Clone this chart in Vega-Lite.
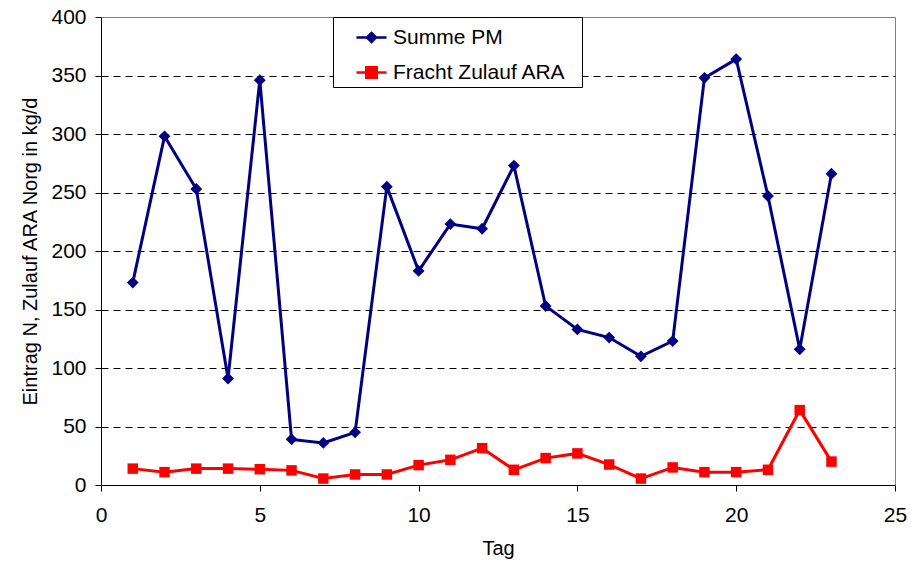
{
  "$schema": "https://vega.github.io/schema/vega-lite/v6.json",
  "width": 794,
  "height": 468,
  "autosize": {"type": "none"},
  "padding": {"left": 101, "top": 17, "right": 17, "bottom": 79},
  "background": "white",
  "config": {
    "font": "Liberation Sans",
    "view": {"stroke": "#808080", "strokeWidth": 1},
    "axis": {
      "labelFont": "Liberation Sans",
      "titleFont": "Liberation Sans",
      "labelColor": "black",
      "titleColor": "black",
      "labelFontSize": 21,
      "titleFontSize": 20,
      "titleFontWeight": "normal",
      "domainColor": "black",
      "tickColor": "black",
      "tickSize": 6,
      "labelFlush": false,
      "labelOverlap": false
    },
    "legend": {
      "labelFont": "Liberation Sans",
      "labelFontSize": 21,
      "labelColor": "black"
    }
  },
  "data": {
    "values": [
      {"tag": 1, "series": "Summe PM", "wert": 173},
      {"tag": 2, "series": "Summe PM", "wert": 298},
      {"tag": 3, "series": "Summe PM", "wert": 253},
      {"tag": 4, "series": "Summe PM", "wert": 91},
      {"tag": 5, "series": "Summe PM", "wert": 346},
      {"tag": 6, "series": "Summe PM", "wert": 39},
      {"tag": 7, "series": "Summe PM", "wert": 36},
      {"tag": 8, "series": "Summe PM", "wert": 45},
      {"tag": 9, "series": "Summe PM", "wert": 255},
      {"tag": 10, "series": "Summe PM", "wert": 183},
      {"tag": 11, "series": "Summe PM", "wert": 223},
      {"tag": 12, "series": "Summe PM", "wert": 219},
      {"tag": 13, "series": "Summe PM", "wert": 273},
      {"tag": 14, "series": "Summe PM", "wert": 153},
      {"tag": 15, "series": "Summe PM", "wert": 133},
      {"tag": 16, "series": "Summe PM", "wert": 126},
      {"tag": 17, "series": "Summe PM", "wert": 110},
      {"tag": 18, "series": "Summe PM", "wert": 123},
      {"tag": 19, "series": "Summe PM", "wert": 348},
      {"tag": 20, "series": "Summe PM", "wert": 364},
      {"tag": 21, "series": "Summe PM", "wert": 247},
      {"tag": 22, "series": "Summe PM", "wert": 116},
      {"tag": 23, "series": "Summe PM", "wert": 266},
      {"tag": 1, "series": "Fracht Zulauf ARA", "wert": 14},
      {"tag": 2, "series": "Fracht Zulauf ARA", "wert": 11},
      {"tag": 3, "series": "Fracht Zulauf ARA", "wert": 14},
      {"tag": 4, "series": "Fracht Zulauf ARA", "wert": 14},
      {"tag": 5, "series": "Fracht Zulauf ARA", "wert": 13.5},
      {"tag": 6, "series": "Fracht Zulauf ARA", "wert": 12.5},
      {"tag": 7, "series": "Fracht Zulauf ARA", "wert": 5.5},
      {"tag": 8, "series": "Fracht Zulauf ARA", "wert": 9},
      {"tag": 9, "series": "Fracht Zulauf ARA", "wert": 9},
      {"tag": 10, "series": "Fracht Zulauf ARA", "wert": 17},
      {"tag": 11, "series": "Fracht Zulauf ARA", "wert": 21.5},
      {"tag": 12, "series": "Fracht Zulauf ARA", "wert": 31.5},
      {"tag": 13, "series": "Fracht Zulauf ARA", "wert": 13},
      {"tag": 14, "series": "Fracht Zulauf ARA", "wert": 23},
      {"tag": 15, "series": "Fracht Zulauf ARA", "wert": 27},
      {"tag": 16, "series": "Fracht Zulauf ARA", "wert": 17.5},
      {"tag": 17, "series": "Fracht Zulauf ARA", "wert": 5.5},
      {"tag": 18, "series": "Fracht Zulauf ARA", "wert": 15},
      {"tag": 19, "series": "Fracht Zulauf ARA", "wert": 11},
      {"tag": 20, "series": "Fracht Zulauf ARA", "wert": 11},
      {"tag": 21, "series": "Fracht Zulauf ARA", "wert": 13},
      {"tag": 22, "series": "Fracht Zulauf ARA", "wert": 64},
      {"tag": 23, "series": "Fracht Zulauf ARA", "wert": 20}
    ]
  },
  "encoding": {
    "x": {
      "field": "tag",
      "type": "quantitative",
      "scale": {"domain": [0, 25], "nice": false},
      "axis": {
        "values": [0, 5, 10, 15, 20, 25],
        "grid": false,
        "title": "Tag",
        "labelPadding": 13,
        "titlePadding": 13
      }
    },
    "y": {
      "field": "wert",
      "type": "quantitative",
      "scale": {"domain": [0, 400], "nice": false},
      "axis": {
        "values": [0, 50, 100, 150, 200, 250, 300, 350, 400],
        "grid": true,
        "gridColor": "black",
        "gridDash": [7, 5],
        "gridWidth": 1,
        "gridOpacity": {"condition": {"test": "datum.value <= 0 || datum.value >= 400", "value": 0}, "value": 1},
        "title": "Eintrag N, Zulauf ARA Norg in kg/d",
        "labelPadding": 9,
        "titlePadding": 10
      }
    }
  },
  "layer": [
    {
      "transform": [{"filter": "datum.series === 'Summe PM'"}],
      "mark": {"type": "line", "color": "#000080", "strokeWidth": 3}
    },
    {
      "transform": [{"filter": "datum.series === 'Summe PM'"}],
      "mark": {"type": "point", "shape": "diamond", "filled": true, "opacity": 1, "size": 140, "color": "#000080"}
    },
    {
      "transform": [{"filter": "datum.series === 'Fracht Zulauf ARA'"}],
      "mark": {"type": "line", "color": "#FF0000", "strokeWidth": 3}
    },
    {
      "transform": [{"filter": "datum.series === 'Fracht Zulauf ARA'"}],
      "mark": {"type": "point", "shape": "square", "filled": true, "opacity": 1, "size": 110, "color": "#FF0000"}
    },
    {
      "mark": {"type": "point", "filled": true, "opacity": 0, "size": 900},
      "encoding": {
        "color": {
          "field": "series",
          "type": "nominal",
          "scale": {"domain": ["Summe PM", "Fracht Zulauf ARA"], "range": ["#000080", "#FF0000"]},
          "legend": {
            "title": null,
            "orient": "none",
            "legendX": 232,
            "legendY": 0,
            "direction": "vertical",
            "padding": 4,
            "symbolOffset": 18,
            "symbolSize": 900,
            "symbolStrokeWidth": 2.5,
            "symbolOpacity": 1,
            "labelOffset": 5,
            "labelLimit": 400,
            "labelExpr": "datum.label + '\u00a0\u00a0\u200b'",
            "rowPadding": 8,
            "strokeColor": "black",
            "fillColor": "white",
            "cornerRadius": 0,
            "encode": {
              "symbols": {
                "update": {
                  "fill": {"scale": "color", "field": "value"},
                  "stroke": {"scale": "color", "field": "value"},
                  "opacity": {"value": 1}
                }
              }
            }
          }
        },
        "shape": {
          "field": "series",
          "type": "nominal",
          "scale": {
            "domain": ["Summe PM", "Fracht Zulauf ARA"],
            "range": ["M-1,0H1M0,-0.3L0.3,0L0,0.3L-0.3,0Z", "M-1,0H1M-0.35,-0.35H0.35V0.35H-0.35Z"]
          }
        }
      }
    }
  ]
}
